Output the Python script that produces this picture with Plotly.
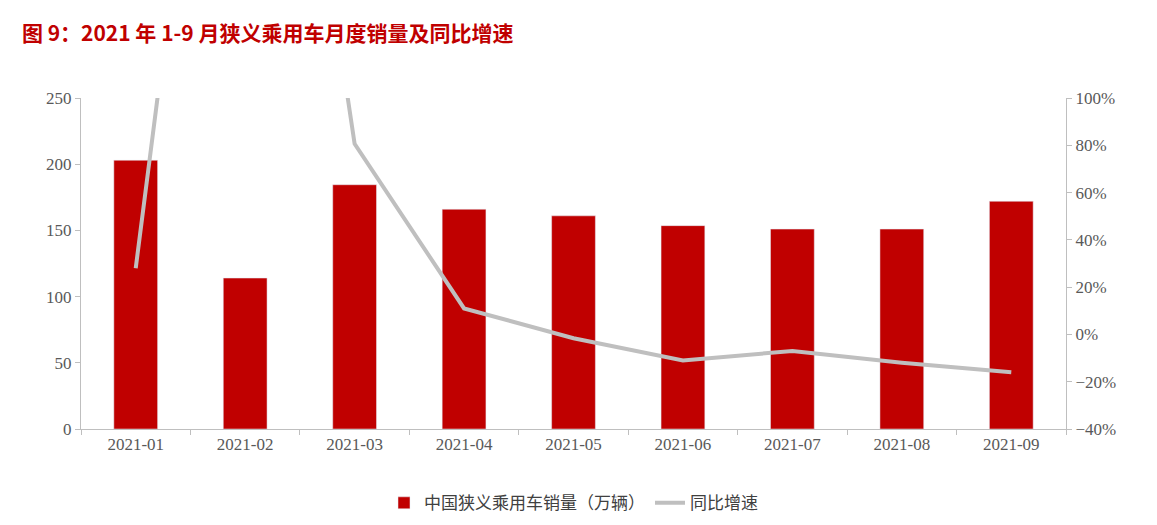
import plotly.graph_objects as go

months = ["2021-01", "2021-02", "2021-03", "2021-04", "2021-05",
          "2021-06", "2021-07", "2021-08", "2021-09"]
sales = [203, 114, 184.5, 166, 161, 153.6, 151, 151, 172]
yoy = [28, 390, 80.6, 11, -1.6, -11, -7, -12, -16]

fig = go.Figure()
fig.add_trace(go.Bar(x=months, y=sales, name="中国狭义乘用车销量（万辆）",
                     marker_color="#C00000", width=0.4))
fig.add_trace(go.Scatter(x=months, y=yoy, name="同比增速", yaxis="y2",
                         mode="lines", line=dict(color="#BFBFBF", width=4)))

fig.update_layout(
    width=1157, height=525,
    paper_bgcolor="white", plot_bgcolor="white",
    margin=dict(l=73, r=99, t=90, b=96),
    font=dict(family="Liberation Serif", size=17, color="#595959"),
    title=dict(text="<b>图 9：2021 年 1-9 月狭义乘用车月度销量及同比增速</b>",
               x=0.012, y=0.965, xanchor="left",
               font=dict(family="Noto Sans CJK SC", size=21, color="#C00000")),
    xaxis=dict(type="category", showline=True, linecolor="#BFBFBF",
               ticks="outside", tickcolor="#BFBFBF", tickson="boundaries"),
    yaxis=dict(range=[0, 250], dtick=50, showgrid=False, showline=True,
               linecolor="#BFBFBF", ticks="outside", tickcolor="#BFBFBF"),
    yaxis2=dict(range=[-40, 100], dtick=20, overlaying="y", side="right",
                ticksuffix="%", showgrid=False, showline=True,
                linecolor="#BFBFBF", ticks="outside", tickcolor="#BFBFBF"),
    legend=dict(orientation="h", x=0.5, xanchor="center", y=-0.17,
                font=dict(family="Noto Sans CJK SC", size=17, color="#404040")),
)
fig.write_html("out.html")
